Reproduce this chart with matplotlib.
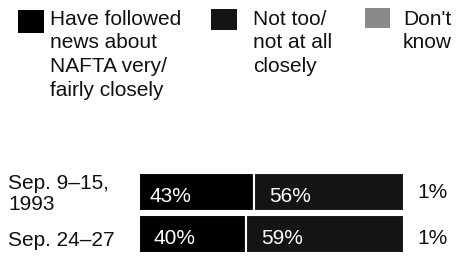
import matplotlib.pyplot as plt
from matplotlib.patches import Rectangle

plt.rcParams['font.family'] = ['Liberation Sans', 'DejaVu Sans']

rows = ['Sep. 9\u201315,\n1993', 'Sep. 24\u201327']
followed = [43, 40]
not_close = [56, 59]
dont_know = [1, 1]
legend_labels = ['Have followed\nnews about\nNAFTA very/\nfairly closely',
                 'Not too/\nnot at all\nclosely',
                 "Don't\nknow"]
colors = ['#000000', '#141414', '#8a8a8a']

W, H = 472, 256
fig = plt.figure(figsize=(W / 100, H / 100), dpi=100)
fs = 15

# legend (squares + text), positions in pixels
sq = [(18, 10, 26, 23), (211, 9, 26, 21), (365, 8, 25, 20)]
tx = [50, 253, 403]
for (x, y, w, h), c, t, lab in zip(sq, colors, tx, legend_labels):
    fig.add_artist(Rectangle((x / W, 1 - (y + h) / H), w / W, h / H,
                             transform=fig.transFigure, color=c, lw=0))
    fig.text(t / W, 1 - 10 / H, lab, fontsize=fs, va='top', ha='left',
             linespacing=1.3, color='#111111')

# bars (axes spans pixel rows 171..255, 42 px per row)
ax = fig.add_axes([139 / W, 1 / H, 268 / W, 84 / H])
ax.set_xlim(0, 100)
ax.set_ylim(1.5, -0.5)
ax.axis('off')
y = range(len(rows))
bh = 0.9
ax.barh(y, followed, height=bh, color=colors[0], edgecolor='white', lw=1.5)
ax.barh(y, not_close, left=followed, height=bh, color=colors[1],
        edgecolor='white', lw=1.5)
lefts = [a + b for a, b in zip(followed, not_close)]
# "don't know" slice is too thin to show in the original
ax.barh(y, dont_know, left=lefts, height=bh, color='white', lw=0)

for i in y:
    ax.annotate(f'{followed[i]}%', (0, i), xytext=(11 + 3 * i, -5),
                textcoords='offset pixels', color='white', fontsize=fs,
                va='center', ha='left')
    ax.annotate(f'{not_close[i]}%', (followed[i], i), xytext=(15, -5),
                textcoords='offset pixels', color='white', fontsize=fs,
                va='center', ha='left')

# row labels and don't know values
label_y = [194, 241]
pct_y = [193, 238]
for lab, ly, py, d in zip(rows, label_y, pct_y, dont_know):
    fig.text(8 / W, 1 - ly / H, lab, fontsize=fs, va='center',
             ha='left', linespacing=1.15, color='#111111')
    fig.text(448 / W, 1 - py / H, f'{d}%', fontsize=fs, va='center',
             ha='right', color='#111111')

fig.savefig('out.png', dpi=100)
